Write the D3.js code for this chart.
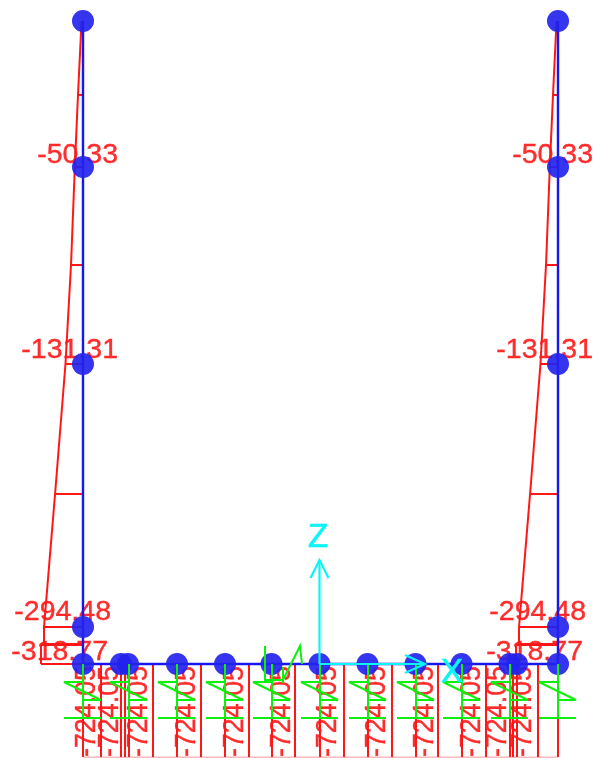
<!DOCTYPE html>
<html><head><meta charset="utf-8">
<script src="https://cdn.jsdelivr.net/npm/d3@7"></script>
<style>html,body{margin:0;padding:0;background:#fff}svg{display:block}text{font-family:"Liberation Sans",Arial,sans-serif}</style>
</head><body><svg id="c" width="593" height="758"></svg>
<script>
// Model data (x stations along the base, elevations, moments)
const frameBaysX = [0, 3.8, 4.5, 9.4, 14.2, 18.85, 23.65, 28.45, 33.25, 37.85, 42.65, 43.4, 47.5];
const elevations = [64.3, 49.7, 30, 3.7, 0];
const diagramElev = [64.3, 56.9, 49.7, 39.9, 30, 17, 3.7, 2, 1.9, 0];
const diagramVals = [-11, -38, -62, -91, -133, -212, -296, -296, -318.77, -318.77];
const momentLabelElev = [49.7, 30, 3.7, 0];
const momentLabelText = ["-50.33", "-131.31", "-294.48", "-318.77"];
const baseStations = [0, 1.8, 3.8, 4.2, 4.6, 7, 9.4, 11.8, 14.2, 16.6, 18.9, 21.2, 23.7, 26.1, 28.5, 30.9, 33.3, 35.5, 37.9, 40.3, 42.7, 43.0, 43.4, 45.5, 47.5];
const baseLabelStations = [0.1, 2.4, 5.3, 10.1, 14.9, 19.6, 24.2, 29.1, 33.9, 38.6, 41.2, 43.7];
const baseLabelText = "-724.05";
const supportStations = [0, 4.6, 9.4, 14.2, 18.9, 23.7, 28.5, 33.3, 37.9, 42.7, 47.5];
const axisNames = ["Z", "X"];

const svg = d3.select("#c");
const defs = svg.append("defs");
defs.append("filter").attr("id","soft").append("feGaussianBlur").attr("stdDeviation",0.5);
const root = svg.append("g").attr("filter","url(#soft)");

const x = d3.scaleLinear().domain([0,47.5]).range([83,558]);
const y = d3.scaleLinear().domain([0,64.3]).range([664,21]);
const m = d3.scaleLinear().domain([0,-318.77]).range([0,-42]);
const RED="#ff1818", BLUE="#1818f0", GREEN="#10f010", CYAN="#10f4f8";
const col0 = [x(0), x(47.5)];
const labelDx = [35, 35, 28, 25];
const labelDy = [-4, -6, -7, -4];

// red moment diagram on both columns
col0.forEach(cx=>{
  const g = root.append("g").attr("fill","none").attr("stroke",RED).attr("stroke-width",2);
  g.append("path").attr("d", d3.line().x((d,i)=>cx+m(diagramVals[i])).y(d=>y(d))(diagramElev));
  diagramElev.slice(1).forEach((e,i)=>{
    g.append("line").attr("x1",cx+m(diagramVals[i+1])).attr("x2",cx).attr("y1",y(e)).attr("y2",y(e));
  });
  momentLabelElev.forEach((e,i)=>{
    root.append("text").attr("x",cx+labelDx[i]).attr("y",y(e)+labelDy[i]).attr("text-anchor","end")
      .attr("font-size",28.5).attr("fill",RED).attr("fill-opacity",.9)
      .attr("stroke",RED).attr("stroke-width",.35).text(momentLabelText[i]);
  });
});

// red base diagram
const baseDepth = 93;
const gb = root.append("g").attr("stroke",RED).attr("stroke-width",2);
baseStations.forEach(s=>{
  gb.append("line").attr("x1",x(s)).attr("x2",x(s)).attr("y1",y(0)).attr("y2",y(0)+baseDepth);
});
gb.append("line").attr("x1",x(0)).attr("x2",x(47.5)).attr("y1",757.5).attr("y2",757.5).attr("stroke-opacity",.3);
baseLabelStations.forEach(s=>{
  root.append("text").attr("transform",`translate(${x(s)+11},757) rotate(-90)`)
    .attr("font-size",29).attr("textLength",91).attr("lengthAdjust","spacingAndGlyphs")
    .attr("fill",RED).attr("fill-opacity",.9)
    .attr("stroke",RED).attr("stroke-width",.35).text(baseLabelText);
});

// blue frame
const gf = root.append("g").attr("stroke",BLUE).attr("stroke-width",2.4);
gf.append("line").attr("x1",x(0)).attr("x2",x(47.5)).attr("y1",y(0)).attr("y2",y(0));
col0.forEach(cx=>gf.append("line").attr("x1",cx).attr("x2",cx).attr("y1",y(0)).attr("y2",y(64.3)));
const nodes = [];
elevations.slice(0,-1).forEach(e=>{nodes.push([0,e]);nodes.push([47.5,e]);});
frameBaysX.forEach(s=>nodes.push([s,0]));
root.append("g").selectAll("circle").data(nodes).join("circle")
  .attr("cx",d=>x(d[0])).attr("cy",d=>y(d[1])).attr("r",11).attr("fill","#2222ee").attr("fill-opacity",.92);

// green supports
const gs = root.append("g").attr("stroke",GREEN).attr("stroke-width",2).attr("fill","none");
supportStations.forEach(s=>{
  const c=x(s);
  gs.append("line").attr("x1",c).attr("x2",c).attr("y1",664).attr("y2",718);
  gs.append("line").attr("x1",c-19).attr("x2",c+18).attr("y1",718).attr("y2",718);
  gs.append("path").attr("d",d3.line()([[c,682],[c-19,682],[c+18,700],[c,700]]));
});
gs.append("path").attr("d",d3.line()([[265,646],[265,680],[283,680],[300,646],[302,664]]));
gs.append("line").attr("x1",283).attr("x2",283).attr("y1",667).attr("y2",683);

// cyan axes
const ga = root.append("g").attr("stroke",CYAN).attr("stroke-width",2.2).attr("fill","none");
const ox=x(23.65), oy=y(0);
ga.append("path").attr("d",d3.line()([[ox,oy],[ox,560]]));
ga.append("path").attr("d",d3.line()([[ox-9,578],[ox,560],[ox+9,578]]));
ga.append("path").attr("d",d3.line()([[ox,oy],[425,oy]]));
ga.append("path").attr("d",d3.line()([[405,655],[425,oy],[405,673]]));
root.append("text").attr("x",318).attr("y",547).attr("text-anchor","middle").attr("font-size",33).attr("fill",CYAN).attr("stroke",CYAN).attr("stroke-width",.7).text(axisNames[0]);
root.append("text").attr("x",452).attr("y",682).attr("text-anchor","middle").attr("font-size",33).attr("fill",CYAN).attr("stroke",CYAN).attr("stroke-width",.7).text(axisNames[1]);
</script></body></html>
